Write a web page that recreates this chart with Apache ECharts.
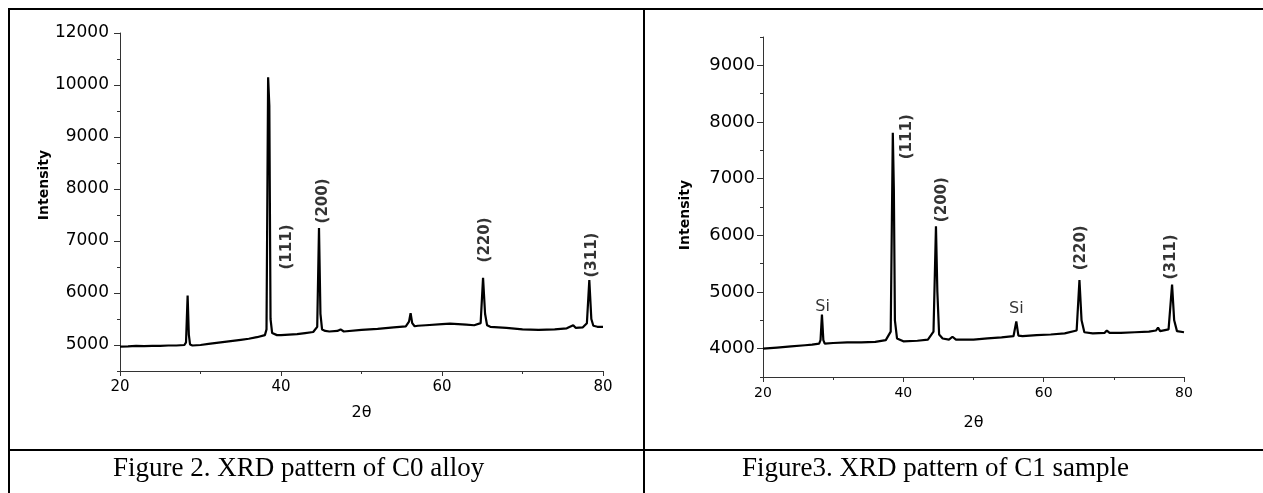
<!DOCTYPE html>
<html>
<head>
<meta charset="utf-8">
<title>XRD patterns</title>
<script src="https://cdn.jsdelivr.net/npm/echarts@6/dist/echarts.min.js"></script>
<style>
    html, body { margin: 0; padding: 0; background: #fff; }
    #main { width: 1263px; height: 493px; }
</style>
</head>
<body>
<div id="main"></div>
<script>
// C0 alloy (left figure)
var c0Angle = [20, 21, 22, 23, 24, 25, 26, 27, 28, 28.2, 28.4, 28.55, 28.7, 29, 30, 31, 32, 33, 34, 35, 36, 37, 38,
    38.2, 38.4, 38.55, 38.7, 38.9, 39.5, 40, 41, 42, 43, 44, 44.5, 44.72, 44.9, 45.1, 45.5, 46, 47, 47.4, 47.8, 48,
    50, 52, 54, 55.5, 55.9, 56.1, 56.3, 56.6, 57, 58, 60, 61, 62, 63, 64, 64.8, 65.1, 65.35, 65.6, 66, 67, 68,
    70, 72, 74, 75.5, 76.3, 76.6, 77.5, 78.0, 78.3, 78.55, 78.8, 79.3, 80];
var c0Intensity = [4970, 4975, 4985, 4980, 4985, 4985, 4990, 4990, 5000, 5050, 5950, 5200, 5010, 4990, 5000, 5020, 5040, 5060, 5080, 5100, 5120, 5150, 5190,
    5300, 10150, 9600, 5500, 5230, 5190, 5190, 5200, 5210, 5230, 5250, 5350, 7250, 5600, 5300, 5270, 5260, 5270, 5300, 5260, 5270,
    5290, 5310, 5340, 5360, 5450, 5610, 5420, 5360, 5370, 5380, 5400, 5410, 5400, 5390, 5380, 5420, 6290, 5600, 5380, 5350, 5340, 5330,
    5300, 5290, 5300, 5320, 5380, 5330, 5340, 5420, 6250, 5500, 5370, 5350, 5350];
var c0PeakNames = ['(111)', '(200)', '(220)', '(311)'];
var c0PeakLabelAt = [[40.75, 6885], [45.2, 7770], [65.3, 7020], [78.6, 6730]];
// the top tick is printed "12000" in the source figure
var c0YTicks = [5000, 6000, 7000, 8000, 9000, 10000, 11000];
var c0YLabels = ['5000', '6000', '7000', '8000', '9000', '10000', '12000'];

// C1 sample (right figure)
var c1Angle = [20, 22, 24, 26, 27, 28, 28.2, 28.4, 28.6, 28.8, 30, 32, 34, 36, 37.5, 38.2, 38.5, 38.65, 38.8, 39.1,
    40, 42, 43.5, 44.3, 44.65, 44.85, 45.1, 45.6, 46.5, 47, 47.5, 50, 52, 54, 55.7, 56.1, 56.4, 57, 59, 61, 63,
    64.7, 65.1, 65.4, 65.8, 67, 68.7, 69, 69.4, 71, 73, 75, 76, 76.3, 76.6, 77.8, 78.3, 78.6, 79, 80];
var c1Intensity = [4000, 4020, 4040, 4060, 4070, 4090, 4150, 4600, 4150, 4090, 4100, 4110, 4110, 4120, 4150, 4300, 7810, 6800, 4500, 4180,
    4130, 4140, 4160, 4300, 6160, 5000, 4250, 4180, 4160, 4210, 4160, 4160, 4180, 4200, 4220, 4480, 4230, 4220, 4240, 4250, 4270,
    4320, 5210, 4500, 4290, 4270, 4280, 4320, 4280, 4280, 4290, 4300, 4320, 4370, 4310, 4340, 5130, 4500, 4310, 4290];
var c1PeakNames = ['(111)', '(200)', '(220)', '(311)'];
var c1PeakLabelAt = [[40.6, 7740], [45.5, 6630], [65.4, 5780], [78.2, 5620]];
var c1SiNames = ['Si', 'Si'];
var c1SiLabelAt = [[28.5, 4740], [56.1, 4705]];
var c1YTicks = [4000, 5000, 6000, 7000, 8000, 9000];

var captions = ['Figure 2. XRD pattern of C0 alloy', 'Figure3. XRD pattern of C1 sample'];

function zip(xs, ys) {
    return xs.map(function (x, i) { return [x, ys[i]]; });
}

var sans = '"DejaVu Sans", Arial, sans-serif';
var axisColor = '#333';

function xAxisFor(grid, labelSize, gap) {
    return {
        type: 'value', gridIndex: grid, min: 20, max: 80, interval: 20,
        name: '2θ', nameLocation: 'middle', nameGap: gap,
        nameTextStyle: { fontFamily: sans, fontSize: 16, color: '#000' },
        axisLine: { lineStyle: { color: axisColor, width: 1 } },
        axisTick: { length: 5, lineStyle: { color: axisColor } },
        minorTick: { show: true, splitNumber: 2, length: 3, lineStyle: { color: axisColor } },
        axisLabel: { fontFamily: sans, fontSize: labelSize, color: '#000', margin: 9 },
        splitLine: { show: false }
    };
}

function yAxisMain(grid, min, max, ticks, labels, size, margin) {
    return {
        type: 'value', gridIndex: grid, min: min, max: max, position: 'left',
        axisLine: { show: true, lineStyle: { color: axisColor, width: 1 } },
        axisTick: { show: true, length: 6, customValues: ticks, lineStyle: { color: axisColor } },
        axisLabel: {
            customValues: ticks, fontFamily: sans, fontSize: size, color: '#000', margin: margin,
            formatter: function (v) {
                var i = ticks.indexOf(v);
                return labels ? labels[i] : String(v);
            }
        },
        splitLine: { show: false }
    };
}

// short ticks every 500
function yAxisMinor(grid, min, max) {
    return {
        type: 'value', gridIndex: grid, min: min, max: max, interval: 500, position: 'left', offset: 0,
        axisLine: { show: false },
        axisTick: { show: true, length: 3, lineStyle: { color: axisColor } },
        axisLabel: { show: false },
        splitLine: { show: false }
    };
}

function labelSeries(xi, yi, names, at, rotate, size, weight) {
    return {
        type: 'scatter', xAxisIndex: xi, yAxisIndex: yi, symbolSize: 0, silent: true,
        data: names.map(function (n, i) { return { name: n, value: at[i] }; }),
        label: {
            show: true, position: 'inside', rotate: rotate, formatter: '{b}',
            fontFamily: sans, fontSize: size, fontWeight: weight, color: '#000'
        }
    };
}

function line(x1, y1, x2, y2) {
    return { type: 'line', shape: { x1: x1, y1: y1, x2: x2, y2: y2 }, style: { stroke: '#000', lineWidth: 2 }, silent: true };
}

var myChart = echarts.init(document.getElementById('main'));
var option = {
    animation: false,
    backgroundColor: '#fff',
    grid: [
        { left: 120, top: 33, width: 483, height: 338 },
        { left: 763, top: 37, width: 421, height: 340 }
    ],
    xAxis: [xAxisFor(0, 15, 34), xAxisFor(1, 14, 38)],
    yAxis: [
        yAxisMain(0, 4500, 11000, c0YTicks, c0YLabels, 17, 11),
        yAxisMinor(0, 4500, 11000),
        yAxisMain(1, 3500, 9500, c1YTicks, null, 18, 8),
        yAxisMinor(1, 3500, 9500)
    ],
    series: [
        {
            type: 'line', xAxisIndex: 0, yAxisIndex: 0, showSymbol: false, silent: true,
            data: zip(c0Angle, c0Intensity),
            lineStyle: { color: '#000', width: 2.2 }
        },
        {
            type: 'line', xAxisIndex: 1, yAxisIndex: 2, showSymbol: false, silent: true,
            data: zip(c1Angle, c1Intensity),
            lineStyle: { color: '#000', width: 2.2 }
        },
        labelSeries(0, 0, c0PeakNames, c0PeakLabelAt, 90, 15, 'bold'),
        labelSeries(1, 2, c1PeakNames, c1PeakLabelAt, 90, 15, 'bold'),
        labelSeries(1, 2, c1SiNames, c1SiLabelAt, 0, 16, 'normal')
    ],
    graphic: [
        // table borders
        line(8, 9, 1263, 9),
        line(9, 8, 9, 493),
        line(644, 8, 644, 493),
        line(8, 450, 1263, 450),
        {
            type: 'text', x: 44, y: 185, rotation: Math.PI / 2, silent: true,
            style: { text: 'Intensity', align: 'center', verticalAlign: 'middle', font: 'bold 14px ' + sans, fill: '#000' }
        },
        {
            type: 'text', x: 685, y: 215, rotation: Math.PI / 2, silent: true,
            style: { text: 'Intensity', align: 'center', verticalAlign: 'middle', font: 'bold 14px ' + sans, fill: '#000' }
        },
        {
            type: 'text', x: 113, y: 469, silent: true,
            style: { text: captions[0], align: 'left', verticalAlign: 'middle', font: '27px "Liberation Serif", serif', fill: '#000' }
        },
        {
            type: 'text', x: 742, y: 469, silent: true,
            style: { text: captions[1], align: 'left', verticalAlign: 'middle', font: '27px "Liberation Serif", serif', fill: '#000' }
        }
    ]
};
myChart.setOption(option);
window.addEventListener('resize', function () {
    myChart.resize();
});
</script>
</body>
</html>
